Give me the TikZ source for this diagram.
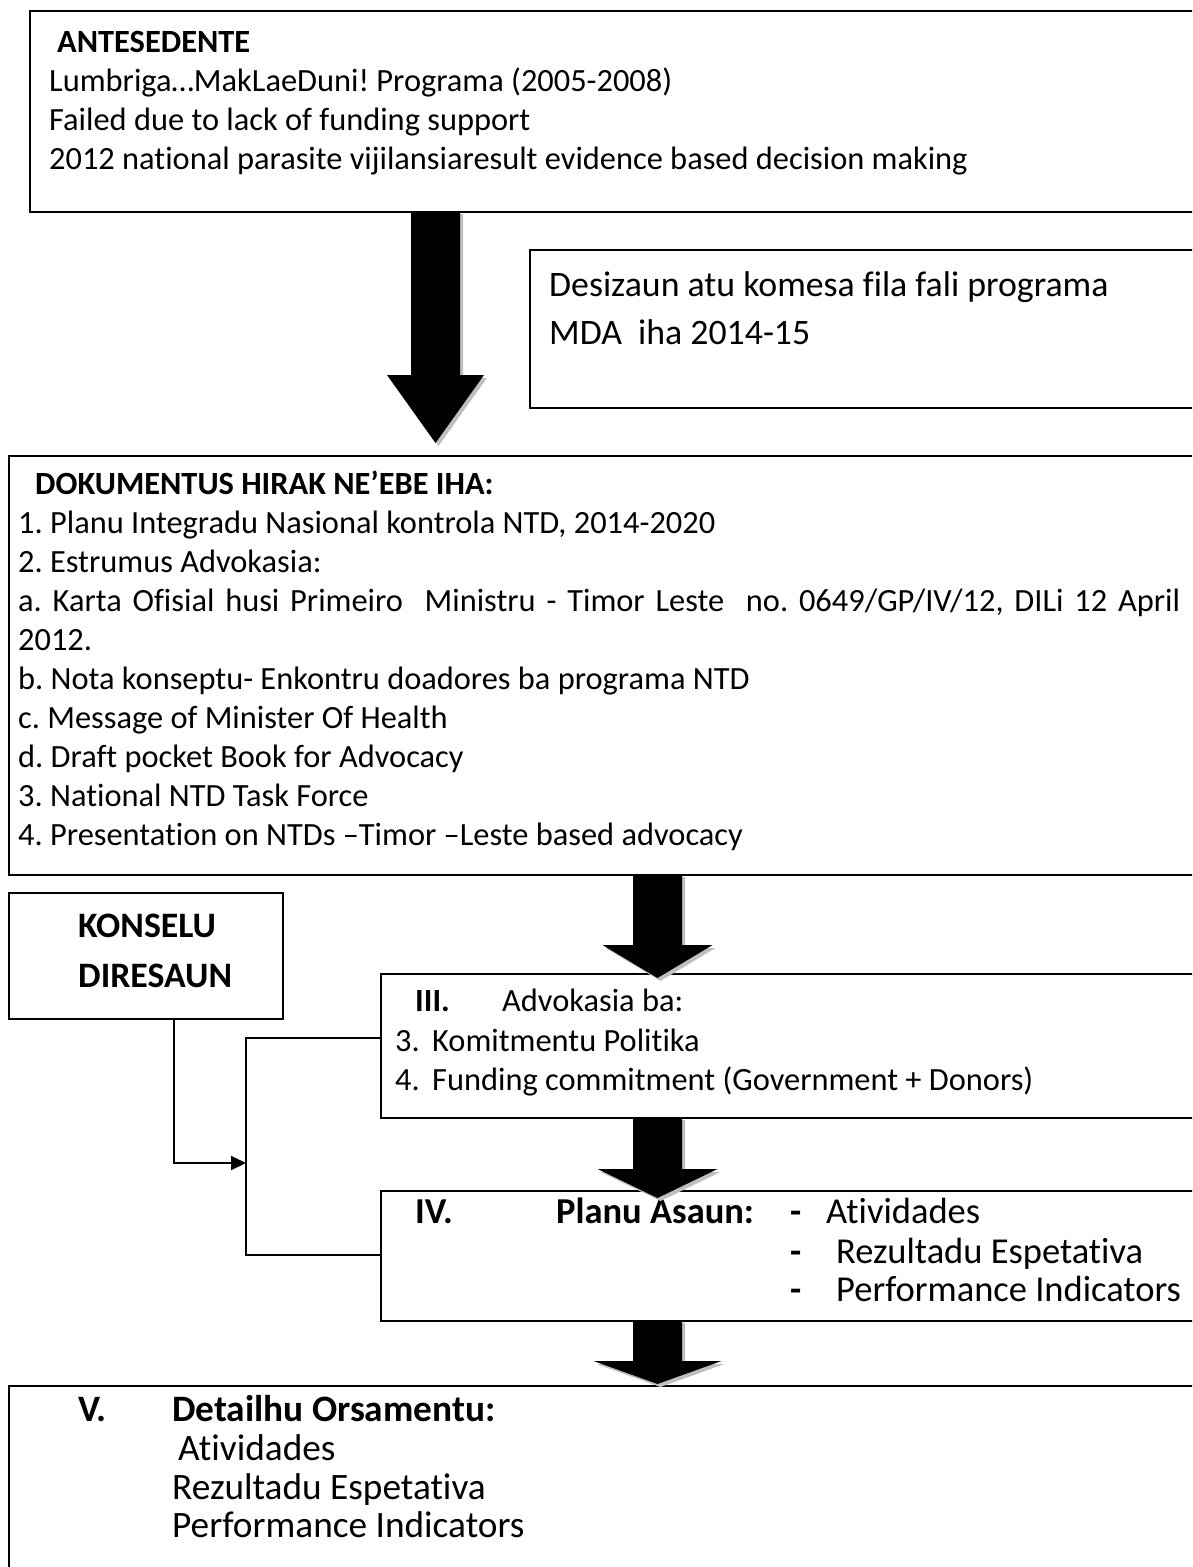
\documentclass[tikz,border=0pt]{standalone}
\usepackage{fontspec}
\setmainfont[Ligatures={NoCommon,NoContextual}]{Carlito}
\usetikzlibrary{arrows.meta}
\frenchspacing
\newcommand\blkarrow[6]{%
  \fill[gray!50,shift={(3,3)}] ({#1-#5},#2) -- ({#1-#5},#3) -- ({#1-#6},#3) -- (#1,#4) -- ({#1+#6},#3) -- ({#1+#5},#3) -- ({#1+#5},#2) -- cycle;
  \fill[black] ({#1-#5},#2) -- ({#1-#5},#3) -- ({#1-#6},#3) -- (#1,#4) -- ({#1+#6},#3) -- ({#1+#5},#3) -- ({#1+#5},#2) -- cycle;}
\begin{document}
\begin{tikzpicture}[x=1pt,y=-1pt,
  box/.style={draw=black,line width=2pt,inner sep=0pt,anchor=north west},
  txt/.style={anchor=base west,inner sep=0pt,font=\fontsize{32.4}{39}\selectfont},
  btxt/.style={anchor=base west,inner sep=0pt,font=\fontsize{32.4}{39}\selectfont\bfseries},
  big/.style={anchor=base west,inner sep=0pt,font=\fontsize{35.8}{43}\selectfont},
  bigb/.style={anchor=base west,inner sep=0pt,font=\fontsize{35.8}{43}\selectfont\bfseries},
  mid/.style={anchor=base west,inner sep=0pt,font=\fontsize{36.5}{43}\selectfont},
  midb/.style={anchor=base west,inner sep=0pt,font=\fontsize{36.5}{43}\selectfont\bfseries},
  low/.style={anchor=base west,inner sep=0pt,font=\fontsize{37.3}{43}\selectfont},
  lowb/.style={anchor=base west,inner sep=0pt,font=\fontsize{37.3}{43}\selectfont\bfseries},
  conn/.style={line width=2pt},
]
\useasboundingbox (0,0) rectangle (1192,1567);
\clip (0,0) rectangle (1192,1567);
\fill[white] (0,0) rectangle (1192,1567);

% boxes
\node[box,minimum width=1171pt,minimum height=201pt] (b1) at (29,10) {};
\node[box,minimum width=700pt,minimum height=158pt] (b2) at (529,249) {};
\node[box,minimum width=1200pt,minimum height=419pt] (b3) at (8,455) {};
\node[box,minimum width=274pt,minimum height=126pt] (kons) at (8,892) {};
\node[box,minimum width=850pt,minimum height=144pt] (b4) at (380,973) {};
\node[box,minimum width=850pt,minimum height=130pt] (b5) at (380,1190) {};
\node[box,minimum width=1200pt,minimum height=250pt] (b6) at (8,1385) {};

% box 1 text
\node[btxt] (t1a) at (57,52) {ANTESEDENTE};
\node[txt] (t1b) at (49,91) {Lumbriga…MakLaeDuni! Programa (2005-2008)};
\node[txt] (t1c) at (49,130) {Failed due to lack of funding support};
\node[txt] (t1d) at (49,169) {2012 national parasite vijilansiaresult evidence based decision making};

% box 2 text
\node[big] (t2a) at (549,296) {Desizaun atu komesa fila fali programa};
\node[big] (t2b) at (549,344) {MDA\ \ iha 2014-15};

% box 3 text
\node[btxt] (t3a) at (35,494) {DOKUMENTUS HIRAK NE’EBE IHA:};
\node[txt] (t3b) at (18,533) {1. Planu Integradu Nasional kontrola NTD, 2014-2020};
\node[txt] (t3c) at (18,572) {2. Estrumus Advokasia:};
\node[txt] (t3d) at (18,611) {\makebox[1162pt][s]{a. Karta Ofisial husi Primeiro\ \ Ministru - Timor Leste\ \ no. 0649/GP/IV/12, DILi 12 April}};
\node[txt] (t3e) at (18,650) {2012.};
\node[txt] (t3f) at (18,689) {b. Nota konseptu- Enkontru doadores ba programa NTD};
\node[txt] (t3g) at (18,728) {c. Message of Minister Of Health};
\node[txt] (t3h) at (18,767) {d. Draft pocket Book for Advocacy};
\node[txt] (t3i) at (18,806) {3. National NTD Task Force};
\node[txt] (t3j) at (18,845) {4. Presentation on NTDs –Timor –Leste based advocacy};

% konselu
\node[bigb] (k1) at (78,937) {KONSELU};
\node[bigb] (k2) at (78,987) {DIRESAUN};

% box III
\node[btxt] (t4a) at (415,1011) {III.};
\node[txt] (t4b) at (502,1011) {Advokasia ba:};
\node[txt] (t4c) at (395,1051) {3.};
\node[txt] (t4d) at (432,1051) {Komitmentu Politika};
\node[txt] (t4e) at (395,1090) {4.};
\node[txt] (t4f) at (432,1090) {Funding commitment (Government + Donors)};

% box IV
\node[midb] (t5a) at (415,1223) {IV.};
\node[midb] (t5b) at (556,1223) {Planu Asaun:};
\node[midb] (t5c) at (790,1223) {-};
\node[mid] (t5d) at (826,1223) {Atividades};
\node[midb] (t5e) at (790,1263) {-};
\node[mid] (t5f) at (836,1263) {Rezultadu Espetativa};
\node[midb] (t5g) at (790,1301) {-};
\node[mid] (t5h) at (836,1301) {Performance Indicators};

% box V
\node[lowb] (t6a) at (78,1421) {V.};
\node[lowb] (t6b) at (172,1421) {Detailhu Orsamentu:};
\node[low] (t6c) at (178,1460) {Atividades};
\node[low] (t6d) at (172,1499) {Rezultadu Espetativa};
\node[low] (t6e) at (172,1537) {Performance Indicators};

% connectors
\coordinate (kd) at (174,1163);
\coordinate (brk) at (246,1163);
\coordinate (j1) at (246,1038);
\coordinate (j2) at (246,1255);
\draw[conn] (j1 -| b4.west) -- (j1) -- (j2) -- (j2 -| b5.west);
\draw[conn,-{Triangle[length=15pt,width=14pt]}] (kons.south -| kd) -- (kd) -- (brk);

% block arrows
\blkarrow{435.5}{211}{375}{443}{24.5}{48.5}
\blkarrow{657.5}{874}{945}{978}{24.5}{55}
\blkarrow{657.5}{1117}{1169}{1198}{24.5}{60}
\blkarrow{657.5}{1320}{1361}{1384}{24.5}{64}
\end{tikzpicture}
\end{document}
